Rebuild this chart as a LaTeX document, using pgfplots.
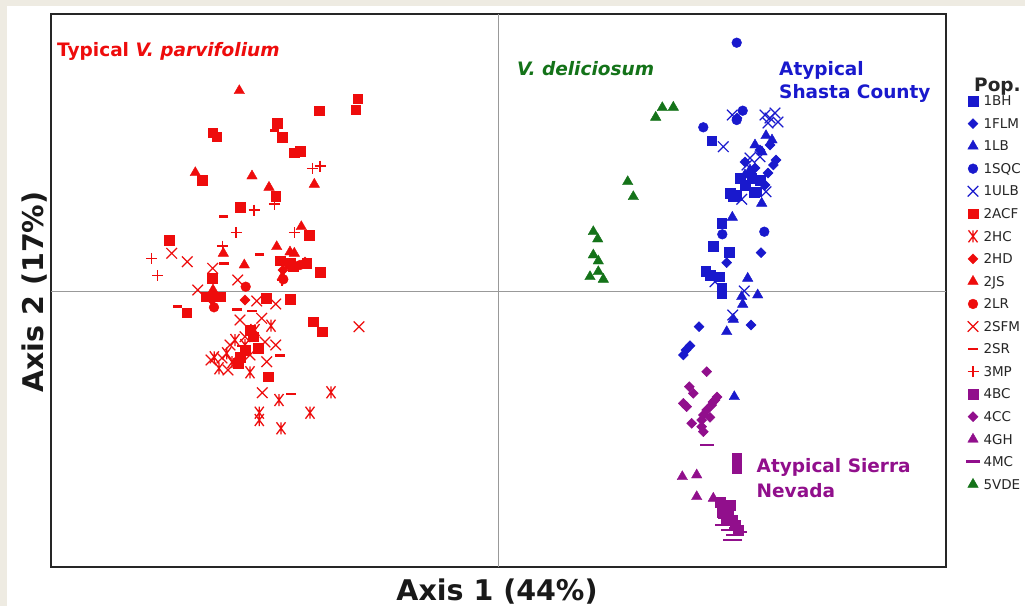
\documentclass[border=0pt]{standalone}
\usepackage{pgfplots}
\pgfplotsset{compat=1.18}
\usepackage{fontspec}
\setmainfont{DejaVu Sans}
\definecolor{cred}{RGB}{238,12,12}
\definecolor{cblue}{RGB}{25,25,205}
\definecolor{cpurp}{RGB}{145,15,140}
\definecolor{cgreen}{RGB}{20,115,25}
\definecolor{beige}{RGB}{238,235,226}
\pgfdeclareplotmark{sqdiamond}{%
 \pgfpathmoveto{\pgfqpoint{0pt}{\pgfplotmarksize}}%
 \pgfpathlineto{\pgfqpoint{\pgfplotmarksize}{0pt}}%
 \pgfpathlineto{\pgfqpoint{0pt}{-\pgfplotmarksize}}%
 \pgfpathlineto{\pgfqpoint{-\pgfplotmarksize}{0pt}}%
 \pgfpathclose\pgfusepathqfillstroke}
\pgfdeclareplotmark{xstar}{%
 \pgfpathmoveto{\pgfqpoint{-.75\pgfplotmarksize}{-\pgfplotmarksize}}%
 \pgfpathlineto{\pgfqpoint{.75\pgfplotmarksize}{\pgfplotmarksize}}%
 \pgfpathmoveto{\pgfqpoint{-.75\pgfplotmarksize}{\pgfplotmarksize}}%
 \pgfpathlineto{\pgfqpoint{.75\pgfplotmarksize}{-\pgfplotmarksize}}%
 \pgfpathmoveto{\pgfqpoint{0pt}{-\pgfplotmarksize}}%
 \pgfpathlineto{\pgfqpoint{0pt}{\pgfplotmarksize}}%
 \pgfusepathqstroke}
\begin{document}
\begin{tikzpicture}[x=1pt,y=1pt]
\fill[beige] (0,0) rectangle (1025,-606);
\fill[white] (7,-6) rectangle (1025,-606);
\useasboundingbox (0,0) rectangle (1025,-606);
\begin{axis}[at={(51,-567)}, anchor=south west, scale only axis,
  width=895pt, height=553pt, xmin=51, xmax=946, ymin=-567, ymax=-14,
  xtick=\empty, ytick=\empty, clip=false,
  axis line style={line width=1.5pt, black!85},
  legend style={at={(axis cs:966,-95)}, anchor=north west, draw=none, fill=none,
    font=\fontsize{13.5}{15}\selectfont, inner sep=0pt, outer sep=0pt,
    row sep=10.55pt, column sep=3.5pt,
    nodes={inner sep=0pt, text height=9.5pt, text depth=0pt, text=black!85}},
  legend cell align=left,
  legend image code/.code={\path[draw=none,fill=none] (-5pt,-6pt) rectangle (5pt,6pt); \draw[#1] plot coordinates {(0pt,0pt)};},
]
\draw[black!40, line width=0.9pt] (axis cs:498,-14) -- (axis cs:498,-567);
\draw[black!40, line width=0.9pt] (axis cs:51,-291) -- (axis cs:946,-291);
% ---------- blue ----------
\addplot[only marks, mark=square*, mark size=4.9pt, color=cblue] coordinates {
(711.7,-140.7) (751.7,-178.3) (745,-185) (730,-193) (756.7,-191.7) (733.3,-196) (754.3,-192.3)
(721.7,-223.3) (713.3,-246) (729,-252.3) (705.7,-271) (710,-275) (719.3,-276.7) (721.7,-288.3)
(721.7,-293.3) (740,-178) (760,-180) (736,-195)};
\addlegendentry{1BH}
\addplot[only marks, mark=sqdiamond, mark size=5pt, color=cblue] coordinates {
(737,-118) (773.3,-165) (768,-173) (760,-150) (770,-145) (726.7,-262.7) (761,-252.7) (751,-325)
(699,-326.7) (690,-345.7) (683.3,-355) (686,-350) (776,-160) (765,-185) (745,-162) (755,-168)};
\addlegendentry{1FLM}
\addplot[only marks, mark=triangle*, mark size=6pt, color=cblue] coordinates {
(766,-135.7) (755,-145) (762,-152) (761.7,-203.3) (732.3,-217.3) (747.7,-278.3) (741.7,-296.7)
(757.7,-295) (742.7,-304.3) (733.3,-319.3) (726.7,-331.7) (734.3,-396.7) (772,-140) (750,-170) (745,-175)};
\addlegendentry{1LB}
\addplot[only marks, mark=*, mark size=4.9pt, color=cblue] coordinates {
(736.7,-42.7) (703.3,-127.3) (736.7,-120) (742.7,-110.7) (722.3,-234.3) (764.3,-231.7)};
\addlegendentry{1SQC}
\addplot[only marks, mark=x, mark size=7.5pt, color=cblue, mark options={line width=1.2pt}] coordinates {
(723.3,-146.7) (732.3,-115) (765,-115) (770,-118) (775,-113) (778,-122) (768,-123) (750,-158)
(760,-156.7) (766,-191.7) (741.7,-199.3) (715,-281.7) (744.3,-291) (732.7,-315) (747,-165)};
\addlegendentry{1ULB}
% ---------- red ----------
\addplot[only marks, mark=square*, mark size=4.9pt, color=cred] coordinates {
(357.7,-98.7) (355.7,-109.7) (319,-110.7) (277,-123.3) (212.7,-132.7) (216.7,-136.7) (282.3,-137.3)
(294.3,-152.7) (300,-151) (202,-180) (275.7,-196) (240.3,-207) (309.3,-235) (169.3,-240)
(280,-260.7) (290,-263.3) (293.3,-266.7) (306.7,-263.3) (320,-272.3) (212.3,-278.3) (206,-296.7)
(215,-296.7) (220,-296.7) (186.7,-312.7) (266,-298.3) (290,-299.3) (313.3,-321.7) (322.3,-331.7)
(253.3,-336.7) (258.3,-348.3) (238.3,-363.3) (268.3,-376.7) (250,-330) (245,-350) (240,-357)};
\addlegendentry{2ACF}
\addplot[only marks, mark=xstar, mark size=6pt, color=cred, mark options={line width=1.3pt}] coordinates {
(271,-325.7) (235,-340) (214.3,-357.3) (219,-368.3) (250,-372.3) (279,-400) (331,-392.3) (310,-412.7)
(259.3,-412.7) (259.3,-420) (281,-428.3) (226.7,-353.3) (245,-345) (255,-330) (232,-362)};
\addlegendentry{2HC}
\addplot[only marks, mark=sqdiamond, mark size=5pt, color=cred] coordinates {
(305,-262) (245,-300) (212,-300) (283,-270)};
\addlegendentry{2HD}
\addplot[only marks, mark=triangle*, mark size=6pt, color=cred] coordinates {
(239.3,-90.7) (195.3,-172.7) (252,-176) (269,-187.3) (314.3,-184.3) (301.3,-226.7) (276.7,-246.7)
(223.3,-253.3) (244.3,-265) (294.3,-253.3) (282.3,-276.7) (213,-290) (290,-252)};
\addlegendentry{2JS}
\addplot[only marks, mark=*, mark size=4.9pt, color=cred] coordinates {
(245.7,-286.7) (214,-307.3) (283.3,-279.3) (300,-265)};
\addlegendentry{2LR}
\addplot[only marks, mark=x, mark size=7.5pt, color=cred, mark options={line width=1.2pt}] coordinates {
(171.7,-253.3) (187.3,-261.7) (212.7,-268.3) (237.7,-280) (197.7,-290) (256.7,-301) (275.7,-304)
(261.7,-318.3) (275.7,-345) (266.7,-361.7) (359,-326.7) (262.3,-392.7) (245,-336.7) (230,-345)
(240,-320) (228,-370) (250,-355) (265,-342) (211,-360) (222,-358)};
\addlegendentry{2SFM}
\addplot[only marks, mark=-, mark size=4.8pt, color=cred, mark options={line width=2.8pt}] coordinates {
(274.3,-130.7) (223.3,-216.7) (259.3,-254.3) (224,-263.3) (177.3,-306.7) (236.7,-309.3) (251.7,-311)
(280,-355.7) (291,-394) (242,-346)};
\addlegendentry{2SR}
\addplot[only marks, mark=+, mark size=5.5pt, color=cred, mark options={line width=1.3pt}] coordinates {
(312.3,-168.3) (320,-166) (254,-210) (274.3,-204) (236,-232.7) (294.3,-232.7) (222.3,-246)
(151.7,-258.3) (157.7,-275.7) (282,-280)};
\addlegendentry{3MP}
% ---------- purple ----------
\addplot[only marks, mark=square*, mark size=4.9pt, color=cpurp] coordinates {
(736.7,-458) (736.7,-468) (720,-502) (725,-508) (728,-514) (732,-520) (735,-525) (738,-530)
(722,-512) (730,-505) (726,-520)};
\addlegendentry{4BC}
\addplot[only marks, mark=sqdiamond, mark size=5pt, color=cpurp] coordinates {
(706.7,-371.7) (689.3,-386.7) (693.3,-393.3) (683.3,-403.3) (686.7,-406.7) (715,-400) (711.7,-405)
(706.7,-410) (703.3,-415) (710,-417.3) (701.7,-420) (691.7,-423.3) (701.7,-426.7) (703.3,-431.7)
(717,-397) (713,-402)};
\addlegendentry{4CC}
\addplot[only marks, mark=triangle*, mark size=6pt, color=cpurp] coordinates {
(682.3,-476.7) (696.7,-475) (696.7,-496.7) (713.3,-498.3)};
\addlegendentry{4GH}
\addplot[only marks, mark=-, mark size=7pt, color=cpurp, mark options={line width=2.8pt}] coordinates {
(706.7,-445) (722,-525) (728,-530) (733,-535) (735,-540) (725,-518) (731,-522) (736,-528)
(740,-532) (730,-540)};
\addlegendentry{4MC}
% ---------- green ----------
\addplot[only marks, mark=triangle*, mark size=6pt, color=cgreen] coordinates {
(662.3,-107.7) (673.3,-107.3) (655.7,-117.3) (627.7,-181.7) (633.3,-196.7) (593.3,-231.7)
(597.7,-239) (593.3,-255) (598.3,-261) (590,-276.7) (598.3,-271.7) (603.3,-279.3)};
\addlegendentry{5VDE}
% ---------- labels ----------
\node[anchor=base west, text=cred, font=\fontsize{18.5}{20}\selectfont\bfseries, inner sep=0pt]
  at (axis cs:57,-56.5) {Typical \textit{V. parvifolium}};
\node[anchor=base west, text=cgreen, font=\fontsize{18.5}{20}\selectfont\bfseries\itshape, inner sep=0pt]
  at (axis cs:517,-75) {V. deliciosum};
\node[anchor=base west, text=cblue, font=\fontsize{18.5}{20}\selectfont\bfseries, inner sep=0pt]
  at (axis cs:779,-75) {Atypical};
\node[anchor=base west, text=cblue, font=\fontsize{18.5}{20}\selectfont\bfseries, inner sep=0pt]
  at (axis cs:779,-98) {Shasta County};
\node[anchor=base west, text=cpurp, font=\fontsize{18.5}{20}\selectfont\bfseries, inner sep=0pt]
  at (axis cs:756.5,-472) {Atypical Sierra};
\node[anchor=base west, text=cpurp, font=\fontsize{18.5}{20}\selectfont\bfseries, inner sep=0pt]
  at (axis cs:756.5,-497) {Nevada};
\node[anchor=base west, text=black!85, font=\fontsize{18.5}{20}\selectfont\bfseries, inner sep=0pt]
  at (axis cs:974,-91) {Pop.};
\end{axis}
\node[anchor=base, font=\fontsize{28.5}{30}\selectfont\bfseries, text=black!90, inner sep=0pt] at (497,-600) {Axis 1 (44\%)};
\node[anchor=base, rotate=90, font=\fontsize{28.5}{30}\selectfont\bfseries, text=black!90, inner sep=0pt] at (43,-292) {Axis 2 (17\%)};
\end{tikzpicture}
\end{document}
